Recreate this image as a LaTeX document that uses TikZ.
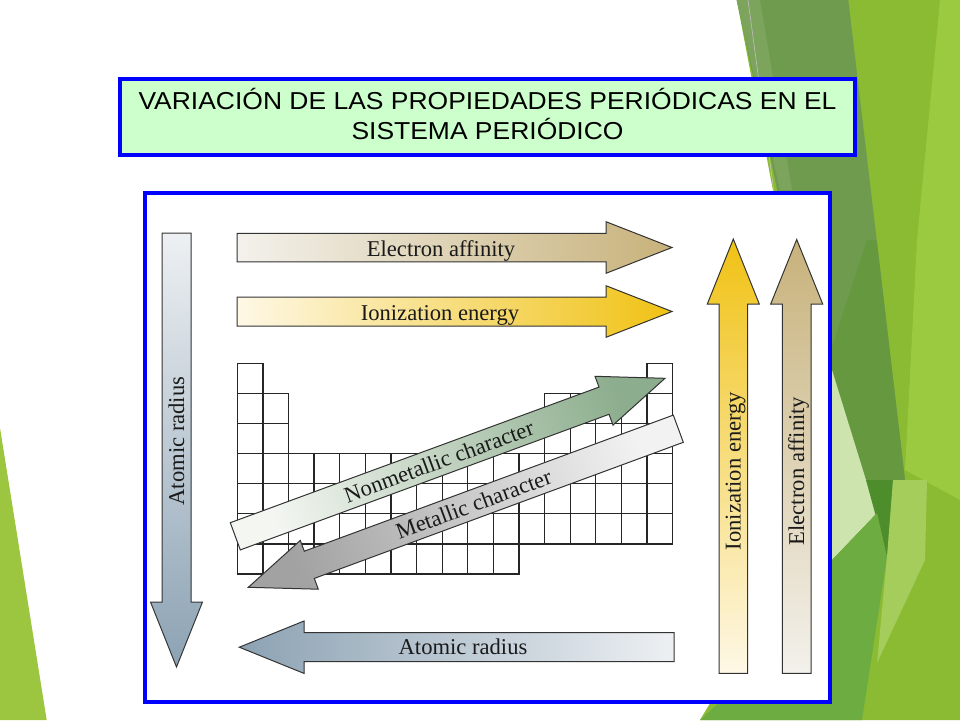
\documentclass[tikz,border=0pt]{standalone}
\usepackage{fontspec}
\usepackage{graphicx}
\setmainfont{Liberation Serif}
\newfontfamily\titlefont{Liberation Sans}
\definecolor{oliveA}{HTML}{6F9B4E}
\definecolor{oliveL}{HTML}{7CA45D}
\definecolor{greenB}{HTML}{8BBB33}
\definecolor{greenR}{HTML}{9BC93F}
\definecolor{greenD}{HTML}{66993F}
\definecolor{paleG}{HTML}{CDE4AE}
\definecolor{wedgeG}{HTML}{4E8D2C}
\definecolor{medG}{HTML}{6DAC41}
\definecolor{patchG}{HTML}{A4CD5C}
\definecolor{leftG}{HTML}{9CC63F}
\definecolor{titleG}{HTML}{CCFFCC}
\definecolor{frameB}{HTML}{0000FF}
\definecolor{eaL}{HTML}{F3F1EC}
\definecolor{eaD}{HTML}{C8B27B}
\definecolor{ieL}{HTML}{FEF8E6}
\definecolor{ieD}{HTML}{F0C214}
\definecolor{arL}{HTML}{EDF0F3}
\definecolor{arD}{HTML}{8CA2B3}
\definecolor{nmL}{HTML}{F3F6F1}
\definecolor{nmD}{HTML}{8DAE8E}
\definecolor{mtL}{HTML}{F2F2F2}
\definecolor{mtD}{HTML}{A2A2A2}
\definecolor{lblC}{HTML}{1A1A1A}
\definecolor{lineC}{HTML}{333333}
\definecolor{gridC}{HTML}{262626}
\tikzset{
  arrowline/.style={draw=lineC, line width=1pt, line join=miter},
  gridline/.style={draw=gridC, line width=1.3pt, line cap=rect},
  lbl/.style={font=\fontsize{22.6}{26}\selectfont, text=lblC, inner sep=0pt, anchor=base},
  titletext/.style={font=\titlefont\fontsize{24.5}{30}\selectfont, text=black, inner sep=0pt, anchor=base},
  boxframe/.style={draw=frameB, line width=4pt, inner sep=0pt}
}
\newcommand{\gx}[1]{237.3+25.61*#1}
\newcommand{\gy}[1]{363.3+30.1*#1}
\begin{document}
\begin{tikzpicture}[x=1pt,y=-1pt]
\useasboundingbox (0,0) rectangle (960,720);
\fill[white] (0,0) rectangle (960,720);
% background decoration
\fill[leftG] (0,428) -- (46.7,720) -- (0,720) -- cycle;
\fill[greenB] (736.7,0) -- (960,0) -- (960,720) -- (700,720) -- (832,500) -- cycle;
\fill[greenR] (940,0) -- (960,0) -- (960,500) -- (905,470) -- (917,240) -- cycle;
\fill[oliveA] (736.7,0) -- (848.3,0) -- (876.7,240) -- (905,480) -- (887,557) -- (832,560) -- (790,250) -- cycle;
\fill[oliveL] (736.7,0) -- (760,0) -- (792,190) -- (780,190) -- cycle;
\fill[greenD] (867,240) -- (876.7,240) -- (905,480) -- (887,557) -- (832,560) -- (832,347) -- cycle;
\fill[paleG] (832,370) -- (866,480) -- (877,513) -- (832,560) -- cycle;
\fill[wedgeG] (866,480) -- (893,480) -- (887,557) -- cycle;
\fill[medG] (700,720) -- (862,720) -- (887,557) -- (877,513) -- (832,560) -- (832,600) -- cycle;
\fill[patchG] (887,557) -- (893,480) -- (927,480) -- (925,560) -- (877,663) -- cycle;
\draw[gray!50, line width=0.6pt] (748,0) -- (775,200);
% title box
\node[boxframe, fill=titleG, minimum width=735.3pt, minimum height=76pt] (title) at (487.65,116.7) {};
\node[titletext] (t1) at (487.5,109) {\scalebox{1.08}[1]{VARIACIÓN DE LAS PROPIEDADES PERIÓDICAS EN EL}};
\node[titletext] (t2) at (487.5,139) {\scalebox{1.08}[1]{SISTEMA PERIÓDICO}};
% frame
\node[boxframe, fill=white, minimum width=685pt, minimum height=509.5pt] (frame) at (487.5,447.25) {};
% periodic table grid (line segments)
\draw[gridline] ({\gx{0}},{\gy{0}}) -- ({\gx{1}},{\gy{0}});
\draw[gridline] ({\gx{16}},{\gy{0}}) -- ({\gx{17}},{\gy{0}});
\foreach \r in {1,2} {
  \draw[gridline] ({\gx{0}},{\gy{\r}}) -- ({\gx{2}},{\gy{\r}});
  \draw[gridline] ({\gx{12}},{\gy{\r}}) -- ({\gx{17}},{\gy{\r}});
}
\foreach \r in {3,4,5,6} \draw[gridline] ({\gx{0}},{\gy{\r}}) -- ({\gx{17}},{\gy{\r}});
\draw[gridline] ({\gx{0}},{\gy{7}}) -- ({\gx{11}},{\gy{7}});
\foreach \c in {0,1} \draw[gridline] ({\gx{\c}},{\gy{0}}) -- ({\gx{\c}},{\gy{7}});
\draw[gridline] ({\gx{2}},{\gy{1}}) -- ({\gx{2}},{\gy{7}});
\foreach \c in {3,...,11} \draw[gridline] ({\gx{\c}},{\gy{3}}) -- ({\gx{\c}},{\gy{7}});
\foreach \c in {12,...,15} \draw[gridline] ({\gx{\c}},{\gy{1}}) -- ({\gx{\c}},{\gy{6}});
\foreach \c in {16,17} \draw[gridline] ({\gx{\c}},{\gy{0}}) -- ({\gx{\c}},{\gy{6}});
% horizontal arrows
\shade[arrowline, left color=eaL, right color=eaD] (237,233.25) -- (606,233.25) -- (606,221.7) -- (672,247.5) -- (606,273.3) -- (606,261.75) -- (237,261.75) -- cycle;
\node[lbl] (eaT) at (441,256) {Electron affinity};
\shade[arrowline, left color=ieL, right color=ieD] (237,297) -- (606,297) -- (606,285.7) -- (672,311.5) -- (606,337.3) -- (606,326) -- (237,326) -- cycle;
\node[lbl] (ieT) at (440,320.5) {Ionization energy};
\shade[arrowline, left color=arD, right color=arL] (674,632.7) -- (304,632.7) -- (304,621) -- (239.3,647.2) -- (304,673.4) -- (304,661.7) -- (674,661.7) -- cycle;
\node[lbl] (arT) at (463,654) {Atomic radius};
% vertical arrows
\shade[arrowline, top color=arL, bottom color=arD] (162,233) -- (191,233) -- (191,602) -- (202.5,602) -- (176.5,667) -- (150.5,602) -- (162,602) -- cycle;
\node[lbl, rotate=90] (arV) at (184,441) {Atomic radius};
\shade[arrowline, top color=ieD, bottom color=ieL] (719,673.3) -- (719,304) -- (707.3,304) -- (733.3,239) -- (759.3,304) -- (747.6,304) -- (747.6,673.3) -- cycle;
\node[lbl, rotate=90] (ieV) at (740.5,471) {Ionization energy};
\shade[arrowline, top color=eaD, bottom color=eaL] (782.4,673.3) -- (782.4,304) -- (770.7,304) -- (796.7,239.5) -- (822.7,304) -- (811,304) -- (811,673.3) -- cycle;
\node[lbl, rotate=90] (eaV) at (804,471) {Electron affinity};
% diagonal arrows
\shade[arrowline, left color=nmL, right color=nmD, shading angle=110.2] (230.3,522.7) -- (599.0,387.1) -- (595.0,376.3) -- (665,378.3) -- (613.0,425.1) -- (609.0,414.3) -- (240.3,549.9) -- cycle;
\node[lbl, rotate=20.2] (nmT) at (441.5,468.5) {Nonmetallic character};
\shade[arrowline, left color=mtD, right color=mtL, shading angle=110.2] (673.3,415.1) -- (304.3,551.2) -- (300.3,540.4) -- (248.3,587.3) -- (318.3,589.2) -- (314.3,578.4) -- (683.3,442.3) -- cycle;
\node[lbl, rotate=20.2] (mtT) at (476.3,511.3) {Metallic character};
\end{tikzpicture}
\end{document}
